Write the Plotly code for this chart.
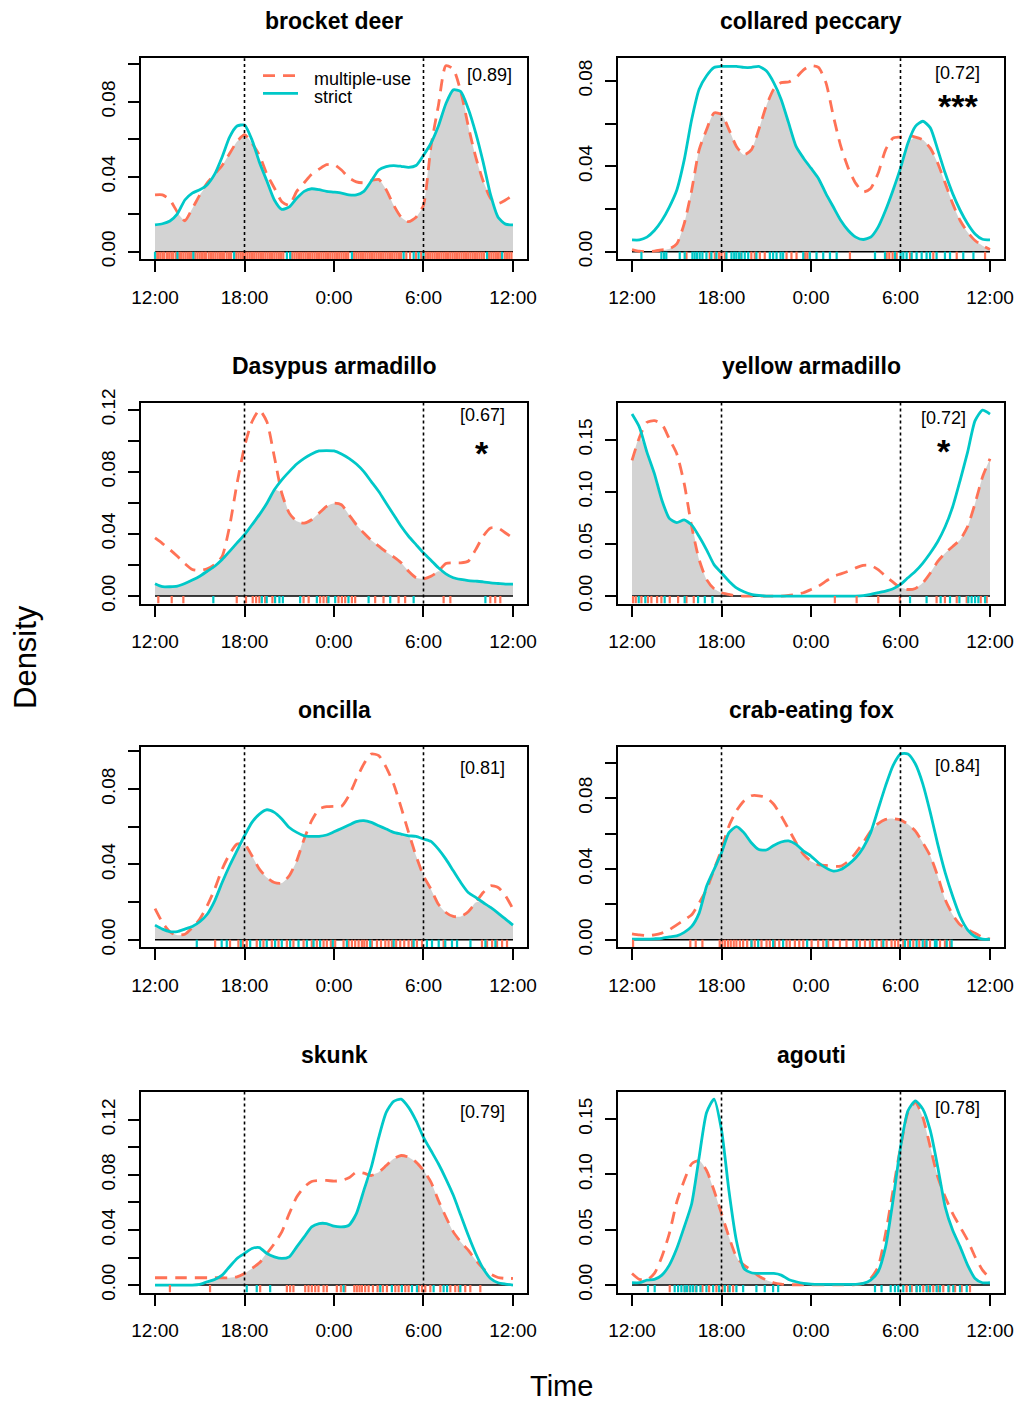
import plotly.graph_objects as go

# Time grid of the activity curves (hours, 12:00 through 12:00 next day, 30-min steps)
HOURS = [12.0, 12.5, 13.0, 13.5, 14.0, 14.5, 15.0, 15.5, 16.0, 16.5, 17.0, 17.5,
         18.0, 18.5, 19.0, 19.5, 20.0, 20.5, 21.0, 21.5, 22.0, 22.5, 23.0, 23.5,
         24.0, 24.5, 25.0, 25.5, 26.0, 26.5, 27.0, 27.5, 28.0, 28.5, 29.0, 29.5,
         30.0, 30.5, 31.0, 31.5, 32.0, 32.5, 33.0, 33.5, 34.0, 34.5, 35.0, 35.5, 36.0]

X_TICKS = [12, 18, 24, 30, 36]
X_TICK_LABELS = ["12:00", "18:00", "0:00", "6:00", "12:00"]

SPECIES = ["brocket deer", "collared peccary", "Dasypus armadillo", "yellow armadillo",
           "oncilla", "crab-eating fox", "skunk", "agouti"]
OVERLAP = [0.89, 0.72, 0.67, 0.72, 0.81, 0.84, 0.79, 0.78]
SIGNIF = ["", "***", "*", "*", "", "", "", ""]
GROUPS = ["multiple-use", "strict"]

# Kernel density of activity, multiple-use areas
MULTI_BROCKET = [.0303, .0303, .0276, .0211, .0165, .0230, .0303, .0368, .0414, .0460, .0524, .0588,
                 .0625, .0579, .0515, .0414, .0340, .0267, .0248, .0322, .0368, .0414, .0441, .0465,
                 .0465, .0436, .0395, .0373, .0368, .0380, .0386, .0331, .0248, .0184, .0160, .0184,
                 .0248, .0561, .0781, .0993, .0975, .0855, .0671, .0506, .0377, .0285, .0257, .0276, .0303]
MULTI_PECCARY = [.0010, .0002, .0000, .0003, .0008, .0013, .0036, .0131, .0288, .0477, .0572, .0650,
                 .0643, .0572, .0493, .0454, .0477, .0572, .0682, .0761, .0792, .0795, .0816, .0852,
                 .0871, .0863, .0792, .0635, .0493, .0391, .0320, .0280, .0296, .0367, .0477, .0532,
                 .0537, .0543, .0537, .0524, .0485, .0414, .0320, .0225, .0146, .0091, .0052, .0028, .0010]
MULTI_DASYPUS = [.0374, .0338, .0299, .0256, .0209, .0171, .0165, .0175, .0203, .0256, .0449, .0726,
                 .0962, .1122, .1197, .1122, .0897, .0662, .0534, .0481, .0470, .0491, .0534, .0577,
                 .0598, .0588, .0524, .0459, .0406, .0359, .0321, .0284, .0252, .0214, .0160, .0118,
                 .0111, .0128, .0160, .0209, .0214, .0214, .0224, .0299, .0385, .0438, .0438, .0406, .0374]
MULTI_YELLOW = [.1302, .1524, .1667, .1683, .1651, .1508, .1365, .1079, .0667, .0349, .0159, .0070,
                .0032, .0016, .0000, .0000, .0000, .0000, .0000, .0000, .0000, .0006, .0016, .0032,
                .0063, .0095, .0143, .0190, .0213, .0238, .0270, .0295, .0295, .0254, .0190, .0133,
                .0079, .0063, .0073, .0127, .0222, .0333, .0413, .0476, .0540, .0667, .0889, .1143, .1317]
MULTI_ONCILLA = [.0166, .0092, .0042, .0025, .0030, .0065, .0110, .0181, .0269, .0375, .0455, .0508,
                 .0508, .0446, .0375, .0331, .0304, .0301, .0340, .0419, .0535, .0632, .0694, .0706,
                 .0708, .0708, .0765, .0853, .0933, .0986, .0977, .0915, .0827, .0703, .0570, .0446,
                 .0340, .0269, .0189, .0145, .0124, .0124, .0149, .0198, .0251, .0287, .0278, .0234, .0163]
MULTI_FOX = [.0034, .0028, .0025, .0028, .0038, .0057, .0085, .0113, .0142, .0208, .0284, .0397,
             .0510, .0643, .0728, .0784, .0813, .0813, .0803, .0765, .0699, .0624, .0548, .0482,
             .0444, .0425, .0420, .0416, .0416, .0444, .0491, .0548, .0614, .0656, .0680, .0684,
             .0677, .0652, .0614, .0548, .0473, .0359, .0227, .0142, .0085, .0057, .0038, .0015, .0004]
MULTI_SKUNK = [.0053, .0053, .0053, .0053, .0053, .0053, .0053, .0053, .0053, .0053, .0053, .0060,
               .0084, .0120, .0161, .0229, .0301, .0386, .0518, .0639, .0711, .0752, .0759, .0759,
               .0754, .0759, .0778, .0819, .0812, .0795, .0819, .0867, .0916, .0940, .0928, .0892,
               .0831, .0747, .0614, .0494, .0386, .0313, .0253, .0181, .0120, .0080, .0055, .0048, .0048]
MULTI_AGOUTI = [.0105, .0051, .0045, .0105, .0255, .0465, .0750, .0945, .1095, .1125, .1035, .0855,
                .0645, .0435, .0255, .0180, .0135, .0081, .0045, .0021, .0009, .0003, .0003, .0003,
                .0003, .0003, .0003, .0003, .0003, .0003, .0003, .0015, .0060, .0165, .0465, .0855,
                .1245, .1560, .1650, .1515, .1245, .0975, .0795, .0645, .0525, .0405, .0255, .0135, .0060]

# Kernel density of activity, strictly protected areas
STRICT_BROCKET = [.0143, .0149, .0164, .0202, .0276, .0313, .0331, .0358, .0414, .0506, .0612, .0671,
                  .0676, .0597, .0478, .0377, .0276, .0226, .0239, .0285, .0322, .0336, .0331, .0322,
                  .0318, .0313, .0303, .0303, .0322, .0377, .0436, .0454, .0460, .0456, .0450, .0460,
                  .0515, .0579, .0671, .0790, .0864, .0855, .0763, .0634, .0478, .0303, .0184, .0147, .0143]
STRICT_PECCARY = [.0055, .0055, .0068, .0099, .0146, .0209, .0288, .0430, .0619, .0761, .0824, .0863,
                  .0868, .0868, .0868, .0863, .0863, .0868, .0847, .0792, .0713, .0603, .0493, .0438,
                  .0391, .0343, .0272, .0209, .0146, .0099, .0068, .0057, .0068, .0115, .0194, .0288,
                  .0391, .0509, .0587, .0611, .0580, .0477, .0367, .0272, .0194, .0131, .0083, .0058, .0055]
STRICT_DASYPUS = [.0079, .0060, .0060, .0064, .0081, .0103, .0128, .0160, .0192, .0235, .0288, .0342,
                  .0395, .0459, .0524, .0598, .0684, .0748, .0801, .0850, .0887, .0915, .0934, .0936,
                  .0934, .0915, .0887, .0850, .0801, .0737, .0673, .0598, .0524, .0449, .0385, .0331,
                  .0278, .0231, .0182, .0143, .0118, .0107, .0100, .0096, .0092, .0085, .0081, .0077, .0077]
STRICT_YELLOW = [.1746, .1619, .1381, .1175, .0921, .0746, .0705, .0730, .0683, .0571, .0444, .0302,
                 .0222, .0143, .0079, .0041, .0016, .0006, .0000, .0000, .0000, .0000, .0000, .0000,
                 .0000, .0000, .0000, .0000, .0000, .0000, .0000, .0004, .0016, .0032, .0048, .0070,
                 .0111, .0175, .0238, .0317, .0413, .0524, .0667, .0857, .1111, .1381, .1683, .1784, .1746]
STRICT_ONCILLA = [.0078, .0057, .0044, .0044, .0057, .0071, .0096, .0136, .0207, .0304, .0393, .0473,
                  .0552, .0623, .0667, .0690, .0676, .0641, .0596, .0570, .0552, .0549, .0549, .0556,
                  .0573, .0591, .0609, .0627, .0632, .0623, .0605, .0588, .0570, .0561, .0552, .0549,
                  .0535, .0522, .0481, .0428, .0366, .0304, .0251, .0225, .0198, .0172, .0142, .0110, .0078]
STRICT_FOX = [.0004, .0004, .0004, .0006, .0009, .0017, .0023, .0042, .0076, .0151, .0302, .0397,
              .0491, .0605, .0639, .0605, .0548, .0510, .0507, .0533, .0552, .0558, .0539, .0501,
              .0473, .0435, .0406, .0388, .0397, .0425, .0463, .0520, .0605, .0737, .0869, .0983,
              .1049, .1049, .0992, .0879, .0718, .0539, .0378, .0246, .0132, .0057, .0019, .0004, .0004]
STRICT_SKUNK = [.0000, .0000, .0000, .0000, .0000, .0000, .0005, .0024, .0041, .0072, .0133, .0193,
                .0229, .0265, .0272, .0229, .0205, .0193, .0205, .0277, .0349, .0422, .0446, .0446,
                .0427, .0422, .0434, .0518, .0687, .0855, .1072, .1253, .1333, .1349, .1289, .1193,
                .1072, .0976, .0880, .0771, .0651, .0506, .0361, .0229, .0120, .0048, .0017, .0007, .0000]
STRICT_AGOUTI = [.0021, .0021, .0045, .0051, .0090, .0180, .0330, .0525, .0735, .1155, .1560, .1680,
                 .1400, .0850, .0400, .0150, .0111, .0105, .0105, .0105, .0090, .0051, .0030, .0015,
                 .0009, .0006, .0006, .0006, .0006, .0006, .0006, .0015, .0045, .0120, .0345, .0765,
                 .1245, .1575, .1665, .1590, .1395, .1065, .0705, .0495, .0345, .0180, .0060, .0021, .0021]

# Detection times (hours) for the rug, multiple-use areas
RUG_MULTI_BROCKET = [12.05, 12.2, 12.35, 12.5, 12.62, 12.8, 12.95, 13.1, 13.22, 13.4, 13.62, 13.75, 13.9,
                     14.05, 14.2, 14.35, 14.45, 14.7, 14.85, 15.0, 15.15, 15.3, 15.42, 15.6, 15.75, 15.9,
                     16.05, 16.2, 16.35, 16.5, 16.62, 16.8, 16.95, 17.1, 17.45, 17.6, 17.75, 17.9, 18.05,
                     18.2, 18.35, 18.5, 18.65, 18.8, 18.95, 19.1, 19.25, 19.4, 19.55, 19.7, 19.85, 20.0,
                     20.15, 20.3, 20.45, 20.6, 21.2, 21.35, 21.5, 21.65, 21.8, 21.95, 22.1, 22.25, 22.4,
                     22.55, 22.7, 22.85, 23.0, 23.15, 23.3, 23.45, 23.6, 23.75, 23.9, 24.05, 24.2, 24.35,
                     24.5, 24.65, 24.8, 24.95, 25.35, 25.5, 25.65, 25.8, 25.95, 26.1, 26.25, 26.4, 26.55,
                     26.7, 26.85, 27.0, 27.15, 27.3, 27.45, 27.6, 27.75, 27.9, 28.05, 28.2, 28.35, 28.5,
                     28.85, 29.1, 29.5, 29.85, 30.15, 30.3, 30.45, 30.6, 30.75, 30.9, 31.05, 31.2, 31.35,
                     31.5, 31.65, 31.8, 31.95, 32.1, 32.25, 32.4, 32.55, 32.7, 32.85, 33.0, 33.15, 33.3,
                     33.45, 33.6, 33.75, 33.9, 34.05, 34.4, 34.55, 34.7, 34.85, 35.0, 35.15, 35.45, 35.6,
                     35.75, 35.9]
RUG_MULTI_PECCARY = [15.65, 17.21, 17.55, 17.84, 18.0, 18.22, 19.23, 20.0, 20.23, 20.57, 20.9, 22.36, 22.69,
                     23.03, 23.59, 23.75, 23.92, 26.61, 29.07, 29.25, 29.47, 29.74, 30.64, 32.2, 33.77, 35.67]
RUG_MULTI_DASYPUS = [12.22, 13.12, 13.9, 17.48, 18.1, 18.55, 18.78, 19.0, 19.38, 19.87, 21.96, 22.3, 23.07,
                     23.3, 23.52, 24.3, 24.53, 24.75, 25.2, 25.42, 26.76, 27.32, 28.33, 28.77, 31.35, 31.8,
                     34.48, 34.81, 35.15]
RUG_MULTI_YELLOW = [12.07, 12.25, 12.63, 13.07, 13.3, 13.68, 13.97, 14.53, 15.09, 15.65, 16.14, 25.6, 27.06,
                    28.51, 29.96, 32.42, 32.98, 33.77, 34.44, 35.38, 35.78]
RUG_MULTI_ONCILLA = [16.03, 17.03, 17.59, 17.88, 18.15, 18.82, 19.27, 19.83, 20.28, 20.84, 21.28, 21.96, 22.51,
                     22.85, 23.3, 23.52, 23.79, 24.08, 24.64, 24.97, 25.2, 25.42, 25.65, 25.87, 26.03, 26.21,
                     26.54, 26.88, 27.15, 27.44, 27.66, 27.88, 28.17, 28.44, 28.71, 29.0, 29.23, 29.56, 29.9,
                     31.35, 33.92, 34.26, 34.6, 34.93, 35.27, 35.6]
RUG_MULTI_FOX = [12.07, 15.91, 16.27, 16.72, 17.88, 18.06, 18.24, 18.44, 18.62, 18.82, 19.0, 19.23, 19.45,
                 19.72, 20.01, 20.23, 20.68, 21.02, 21.24, 21.57, 21.87, 22.36, 22.58, 22.92, 23.21, 23.48,
                 24.04, 24.48, 24.82, 25.15, 25.49, 25.94, 26.38, 26.83, 27.28, 27.62, 27.95, 28.4, 28.73,
                 29.07, 29.4, 29.63, 29.85, 30.19, 30.52, 30.86, 31.26, 31.64, 31.98, 32.65, 32.98, 33.32]
RUG_MULTI_SKUNK = [13.0, 15.69, 19.05, 20.84, 21.06, 21.28, 22.07, 22.29, 22.51, 22.74, 22.96, 23.3, 23.52,
                   24.19, 24.46, 24.75, 25.36, 25.53, 25.71, 25.87, 26.09, 26.32, 26.61, 26.92, 27.28, 27.55,
                   28.11, 28.33, 28.78, 29.0, 29.67, 29.9, 30.12, 30.46, 31.13, 31.8, 32.13, 32.36, 32.8,
                   33.14, 33.81]
RUG_MULTI_AGOUTI = [14.53, 15.53, 15.87, 16.27, 16.72, 17.17, 17.66, 18.06, 18.44, 18.78, 30.41, 30.75, 31.08,
                    31.53, 31.87, 32.2, 32.54, 32.87, 33.27, 33.66, 34.1, 34.66]

# Detection times (hours) for the rug, strictly protected areas
RUG_STRICT_BROCKET = [12.0, 13.5, 14.57, 17.3, 20.84, 21.06, 25.2, 28.67, 29.34, 29.67, 30.0, 34.26, 35.27]
RUG_STRICT_PECCARY = [12.63, 13.97, 14.15, 14.3, 15.2, 15.53, 16.05, 16.2, 16.36, 16.54, 16.72, 16.99, 17.32,
                      17.66, 18.33, 18.67, 18.85, 19.0, 19.18, 19.34, 19.56, 19.79, 20.34, 21.24, 21.46, 21.69,
                      21.96, 22.13, 23.48, 23.92, 24.37, 24.82, 25.27, 25.72, 28.29, 28.96, 29.63, 30.01, 30.19,
                      30.41, 30.75, 31.08, 31.42, 31.75, 31.98, 32.42, 32.98, 33.32, 34.21, 34.89]
RUG_STRICT_DASYPUS = [15.91, 19.16, 19.49, 20.05, 20.34, 20.57, 21.73, 22.85, 23.63, 24.08, 24.97, 26.32, 27.77,
                      29.34, 34.15]
RUG_STRICT_YELLOW = [12.45, 12.89, 14.19, 15.53, 16.43, 16.88, 17.39, 30.64, 31.75, 32.69, 33.32, 33.95, 34.55,
                     34.77, 35.0, 35.22, 35.67]
RUG_STRICT_ONCILLA = [14.8, 16.47, 16.81, 17.75, 18.38, 19.05, 19.49, 20.05, 20.5, 21.06, 21.62, 22.18, 22.63,
                      23.07, 23.92, 24.86, 26.43, 28.0, 29.34, 30.23, 30.57, 31.02, 31.46, 31.91, 32.25, 33.15,
                      34.15, 34.82]
RUG_STRICT_FOX = [20.01, 20.46, 21.46, 22.13, 23.74, 25.04, 27.06, 28.13, 28.85, 30.3, 30.64, 31.08, 31.49,
                  31.75, 32.31, 32.42, 33.1, 33.43]
RUG_STRICT_SKUNK = [18.15, 18.82, 19.72, 24.64, 27.1, 27.88, 28.55, 29.23, 29.56, 30.68, 31.35, 31.58, 32.47]
RUG_STRICT_AGOUTI = [13.07, 13.52, 14.86, 15.09, 15.31, 15.53, 15.69, 15.91, 16.09, 16.32, 16.59, 16.99, 17.44,
                     17.84, 18.22, 18.55, 19.0, 19.45, 20.34, 20.9, 21.46, 21.8, 28.29, 28.73, 29.34, 29.63,
                     29.85, 30.19, 30.64, 31.08, 31.31, 31.75, 31.98, 32.42, 32.65, 33.21, 33.54, 33.99, 34.44]

# y-axis ticks per panel (unlabelled minor positions get an empty label)
Y_TICKS_02_10 = [0.0, 0.02, 0.04, 0.06, 0.08, 0.10]
Y_LABELS_02_10 = ["0.00", "", "0.04", "", "0.08", ""]
Y_TICKS_02_08 = [0.0, 0.02, 0.04, 0.06, 0.08]
Y_LABELS_02_08 = ["0.00", "", "0.04", "", "0.08"]
Y_TICKS_02_12 = [0.0, 0.02, 0.04, 0.06, 0.08, 0.10, 0.12]
Y_LABELS_02_12 = ["0.00", "", "0.04", "", "0.08", "", "0.12"]
Y_TICKS_05_15 = [0.0, 0.05, 0.10, 0.15]
Y_LABELS_05_15 = ["0.00", "0.05", "0.10", "0.15"]

MULTI = [MULTI_BROCKET, MULTI_PECCARY, MULTI_DASYPUS, MULTI_YELLOW,
         MULTI_ONCILLA, MULTI_FOX, MULTI_SKUNK, MULTI_AGOUTI]
STRICT = [STRICT_BROCKET, STRICT_PECCARY, STRICT_DASYPUS, STRICT_YELLOW,
          STRICT_ONCILLA, STRICT_FOX, STRICT_SKUNK, STRICT_AGOUTI]
RUG_MULTI = [RUG_MULTI_BROCKET, RUG_MULTI_PECCARY, RUG_MULTI_DASYPUS, RUG_MULTI_YELLOW,
             RUG_MULTI_ONCILLA, RUG_MULTI_FOX, RUG_MULTI_SKUNK, RUG_MULTI_AGOUTI]
RUG_STRICT = [RUG_STRICT_BROCKET, RUG_STRICT_PECCARY, RUG_STRICT_DASYPUS, RUG_STRICT_YELLOW,
              RUG_STRICT_ONCILLA, RUG_STRICT_FOX, RUG_STRICT_SKUNK, RUG_STRICT_AGOUTI]
Y_TICKS = [(Y_TICKS_02_10, Y_LABELS_02_10), (Y_TICKS_02_08, Y_LABELS_02_08),
           (Y_TICKS_02_12, Y_LABELS_02_12), (Y_TICKS_05_15, Y_LABELS_05_15),
           (Y_TICKS_02_10, Y_LABELS_02_10), (Y_TICKS_02_10, Y_LABELS_02_10),
           (Y_TICKS_02_12, Y_LABELS_02_12), (Y_TICKS_05_15, Y_LABELS_05_15)]

# ---- styling / layout ----
W, H = 1019, 1401
FONT = "Liberation Sans, Arial, Helvetica, sans-serif"
COL_MULTI = "#FF7256"
COL_STRICT = "#00C8C8"
COL_FILL = "#D3D3D3"
DASH = "12px,8px"
LW = 2.8

COL_X = [(140.7, 527.3), (617.7, 1004.3)]           # panel box left/right (px)
ROW_TOP = [58.3, 402.7, 746.5, 1091.7]                # panel box top (px)
BOX_H = 200.8
# overlap label position: (fraction of panel width, px below panel top); stars below it
OV_POS = [(0.9035, 16.7), (0.880, 14.7), (0.8835, 12.3), (0.844, 15.7),
          (0.8835, 22.0), (0.880, 20.0), (0.8835, 20.0), (0.880, 16.7)]
STAR_DY = [0, 48.0, 50.0, 48.0, 0, 0, 0, 0]

fig = go.Figure()
annotations = []
shapes = []
layout_axes = {}


def rug_xy(times, lo):
    xs, ys = [], []
    for t in times:
        xs += [t, t, None]
        ys += [lo, 0, None]
    return xs, ys


def px(x, y):
    return x / W, 1 - y / H


for k in range(8):
    r, c = divmod(k, 2)
    idx = "" if k == 0 else str(k + 1)
    xa, ya = "x" + idx, "y" + idx
    x0p, x1p = COL_X[c]
    top = ROW_TOP[r]
    bot = top + BOX_H
    dom_x = [x0p / W, x1p / W]
    dom_y = [1 - bot / H, 1 - top / H]

    multi, strict = MULTI[k], STRICT[k]
    ymax = max(max(multi), max(strict))
    lo = -0.04 * ymax
    overlap_min = [min(a, b) for a, b in zip(multi, strict)]

    # overlap area
    fig.add_trace(go.Scatter(x=HOURS, y=overlap_min, mode="lines", fill="tozeroy",
                             fillcolor=COL_FILL, line=dict(width=0, color=COL_FILL, shape="spline",
                                                           smoothing=0.6),
                             hoverinfo="skip", showlegend=False, xaxis=xa, yaxis=ya))
    # zero baseline
    fig.add_trace(go.Scatter(x=[X_TICKS[0], X_TICKS[-1]], y=[0, 0], mode="lines",
                             line=dict(color="black", width=1.5), hoverinfo="skip",
                             showlegend=False, xaxis=xa, yaxis=ya))
    fig.add_trace(go.Scatter(x=HOURS, y=multi, mode="lines", name=GROUPS[0],
                             line=dict(color=COL_MULTI, width=LW, dash=DASH,
                                       shape="spline", smoothing=0.6),
                             showlegend=False, xaxis=xa, yaxis=ya))
    fig.add_trace(go.Scatter(x=HOURS, y=strict, mode="lines", name=GROUPS[1],
                             line=dict(color=COL_STRICT, width=LW, shape="spline", smoothing=0.6),
                             showlegend=False, xaxis=xa, yaxis=ya))
    rx, ry = rug_xy(RUG_MULTI[k], lo)
    fig.add_trace(go.Scatter(x=rx, y=ry, mode="lines", line=dict(color=COL_MULTI, width=2.2),
                             hoverinfo="skip", showlegend=False, xaxis=xa, yaxis=ya))
    rx, ry = rug_xy(RUG_STRICT[k], lo)
    fig.add_trace(go.Scatter(x=rx, y=ry, mode="lines", line=dict(color=COL_STRICT, width=2.2),
                             hoverinfo="skip", showlegend=False, xaxis=xa, yaxis=ya))

    # dusk / dawn markers
    for t in (18, 30):
        shapes.append(dict(type="line", xref=xa, yref=ya + " domain", x0=t, x1=t, y0=0, y1=1,
                           line=dict(color="black", width=1.6, dash="dot")))

    yt, yl = Y_TICKS[k]
    layout_axes["xaxis" + idx] = dict(
        domain=dom_x, anchor=ya, range=[X_TICKS[0] - 0.96, X_TICKS[-1] + 0.96],
        tickvals=X_TICKS, ticktext=X_TICK_LABELS, ticks="outside", ticklen=11, tickwidth=1.5,
        tickcolor="black", showline=True, mirror=True, linecolor="black", linewidth=2,
        showgrid=False, zeroline=False, tickfont=dict(family=FONT, size=19, color="black"),
        ticklabelstandoff=9, fixedrange=True, automargin=False)
    layout_axes["yaxis" + idx] = dict(
        domain=dom_y, anchor=xa, range=[lo, 1.04 * ymax],
        tickvals=yt, ticktext=yl, ticks="outside", ticklen=11, tickwidth=1.5, tickangle=-90,
        tickcolor="black", showline=True, mirror=True, linecolor="black", linewidth=2,
        showgrid=False, zeroline=False, tickfont=dict(family=FONT, size=19, color="black"),
        ticklabelstandoff=5, fixedrange=True, automargin=False)

    # panel title
    annotations.append(dict(text="<b>%s</b>" % SPECIES[k], xref="paper", yref="paper",
                            x=(x0p + x1p) / 2 / W, y=1 - (top - 37) / H, showarrow=False,
                            xanchor="center", yanchor="middle",
                            font=dict(family=FONT, size=23, color="black")))
    fx, dy = OV_POS[k]
    annotations.append(dict(text="[%.2f]" % OVERLAP[k], xref=xa + " domain", yref=ya + " domain",
                            x=fx, y=1 - dy / BOX_H, showarrow=False, xanchor="center",
                            yanchor="middle", font=dict(family=FONT, size=18, color="black")))
    if SIGNIF[k]:
        annotations.append(dict(text="<b>%s</b>" % SIGNIF[k], xref=xa + " domain",
                                yref=ya + " domain", x=fx, y=1 - STAR_DY[k] / BOX_H,
                                showarrow=False, xanchor="center", yanchor="middle",
                                font=dict(family=FONT, size=34, color="black")))

# legend keys inside the first panel
for (y_line, dash, col), label, y_text in zip(
        [(75.7, DASH, COL_MULTI), (93.3, "solid", COL_STRICT)], GROUPS, [79.0, 97.5]):
    lx0, ly = px(263, y_line)
    lx1, _ = px(298, y_line)
    shapes.append(dict(type="line", xref="paper", yref="paper", x0=lx0, x1=lx1, y0=ly, y1=ly,
                       line=dict(color=col, width=LW, dash=dash)))
    tx, ty = px(312, y_text)
    annotations.append(dict(text=label, xref="paper", yref="paper", x=tx, y=ty, showarrow=False,
                            xanchor="left", yanchor="middle",
                            font=dict(family=FONT, size=18, color="black")))

annotations.append(dict(text="Density", xref="paper", yref="paper", x=25 / W, y=1 - 657 / H,
                        textangle=-90, showarrow=False, xanchor="center", yanchor="middle",
                        font=dict(family=FONT, size=31, color="black")))
annotations.append(dict(text="Time", xref="paper", yref="paper", x=561 / W, y=1 - 1386 / H,
                        showarrow=False, xanchor="center", yanchor="middle",
                        font=dict(family=FONT, size=29, color="black")))

fig.update_layout(
    width=W, height=H, margin=dict(l=0, r=0, t=0, b=0, pad=0, autoexpand=False),
    paper_bgcolor="white", plot_bgcolor="white", showlegend=False,
    shapes=shapes, annotations=annotations,
    **layout_axes)

fig.write_html("out.html",
               post_script="document.body.style.margin='0';document.body.style.padding='0';")
